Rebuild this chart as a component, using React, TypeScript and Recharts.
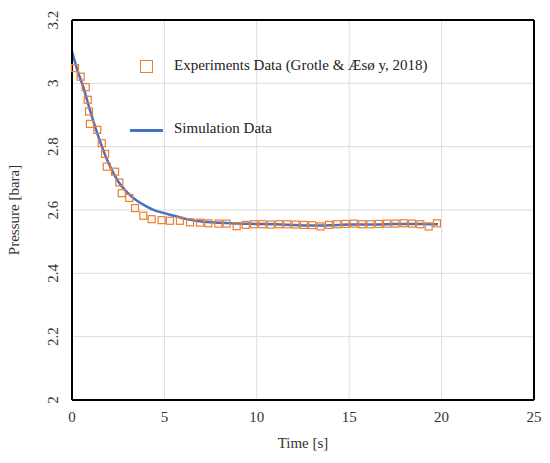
import React from "react"
import { ComposedChart, Line, Scatter, XAxis, YAxis, CartesianGrid, ReferenceLine } from "recharts"

const expTime = [
  0.16, 0.47, 0.74, 0.85, 0.92, 0.97, 1.37, 1.61, 1.79, 1.88, 2.33, 2.56, 2.69, 3.1, 3.41, 3.86, 4.31,
  4.85, 5.3, 5.84, 6.39, 6.93, 7.38, 7.92, 8.37, 8.91, 9.4, 9.85, 10.3, 10.75, 11.2, 11.65, 12.1, 12.55,
  13.0, 13.45, 13.9, 14.35, 14.8, 15.25, 15.7, 16.15, 16.6, 17.05, 17.5, 17.95, 18.4, 18.85, 19.3, 19.75,
]
const expPressure = [
  3.048, 3.021, 2.988, 2.948, 2.911, 2.872, 2.853, 2.811, 2.777, 2.737, 2.721, 2.687, 2.653, 2.638, 2.606,
  2.582, 2.571, 2.568, 2.566, 2.566, 2.561, 2.56, 2.558, 2.557, 2.557, 2.549, 2.553, 2.555, 2.555, 2.554,
  2.555, 2.555, 2.554, 2.553, 2.552, 2.548, 2.553, 2.555, 2.556, 2.557, 2.555, 2.555, 2.556, 2.557, 2.557,
  2.558, 2.557, 2.555, 2.548, 2.558,
]

const simTime = [0, 0.3, 0.6, 1, 1.5, 2, 2.5, 3, 3.5, 4, 4.5, 5, 5.5, 6, 6.5, 7, 8, 9, 10, 11, 12, 13, 14, 15, 16, 17, 18, 19, 19.8]
const simPressure = [
  3.1, 3.04, 2.99, 2.91, 2.82, 2.745, 2.69, 2.655, 2.63, 2.612, 2.598, 2.59, 2.582, 2.574, 2.568, 2.564,
  2.56, 2.557, 2.556, 2.555, 2.553, 2.551, 2.552, 2.554, 2.554, 2.555, 2.556, 2.556, 2.555,
]

const xTicks = [0, 5, 10, 15, 20, 25]
const yTicks = [2, 2.2, 2.4, 2.6, 2.8, 3, 3.2]

const expData = expTime.map((t, i) => ({ x: t, y: expPressure[i] }))
const simData = simTime.map((t, i) => ({ x: t, y: simPressure[i] }))

const FONT = "'Liberation Serif', serif"
const ORANGE = "#ED7D31"
const BLUE = "#4472C4"

const SquareDot = (props: any) => {
  const { cx, cy } = props
  if (cx == null || cy == null) return null
  return <rect x={cx - 3.5} y={cy - 3.5} width={7} height={7} fill="none" stroke={ORANGE} strokeWidth={1.2} />
}

const YTick = (props: any) => {
  const { y, payload } = props
  return (
    <text
      x={53}
      y={y}
      transform={`rotate(-90, 53, ${y})`}
      textAnchor="middle"
      dominantBaseline="central"
      fontFamily={FONT}
      fontSize={15}
      fill="#333"
    >
      {payload.value}
    </text>
  )
}

// legend drawn as an overlay so it doesn't shrink the plot area
const LegendBox = () => (
  <div style={{ position: "absolute", left: 130, top: 56, fontFamily: FONT, fontSize: 15, color: "#222" }}>
    <div style={{ position: "absolute", left: 10, top: 4, width: 13, height: 13, border: `1.5px solid ${ORANGE}`, boxSizing: "border-box" }} />
    <div style={{ position: "absolute", left: 44, top: 1, whiteSpace: "nowrap" }}>Experiments Data (Grotle &amp; Æsø y, 2018)</div>
    <div style={{ position: "absolute", left: 0, top: 73, width: 33, height: 3, background: BLUE }} />
    <div style={{ position: "absolute", left: 44, top: 64, whiteSpace: "nowrap" }}>Simulation Data</div>
  </div>
)

export default function App() {
  return (
    <div style={{ width: 550, height: 463, position: "relative", background: "#fff" }}>
      <style>{`body{margin:0}`}</style>
      <ComposedChart width={550} height={463} margin={{ top: 20, right: 16, bottom: 0, left: 0 }}>
        <CartesianGrid stroke="#DCDCDC" strokeWidth={1} />
        <XAxis
          type="number"
          dataKey="x"
          domain={[0, 25]}
          ticks={xTicks}
          height={63}
          axisLine={{ stroke: "#000", strokeWidth: 2 }}
          tickLine={false}
          tickSize={0}
          tickMargin={11}
          tick={{ fontFamily: FONT, fontSize: 15, fill: "#333" }}
          label={{ value: "Time [s]", position: "insideBottom", offset: 15, style: { fontFamily: FONT, fontSize: 15, fill: "#333" } }}
        />
        <YAxis
          type="number"
          dataKey="y"
          domain={[2, 3.2]}
          ticks={yTicks}
          width={72}
          axisLine={{ stroke: "#000", strokeWidth: 2 }}
          tickLine={false}
          tick={<YTick />}
          label={{ value: "Pressure [bara]", angle: -90, position: "insideLeft", offset: 14, style: { fontFamily: FONT, fontSize: 15, fill: "#333", textAnchor: "middle" } }}
        />
        <ReferenceLine y={3.2} stroke="#000" strokeWidth={2} />
        <ReferenceLine x={25} stroke="#000" strokeWidth={2} />
        <Scatter name="Experiments Data" data={expData} shape={<SquareDot />} isAnimationActive={false} />
        <Line
          name="Simulation Data"
          data={simData}
          dataKey="y"
          type="monotone"
          stroke={BLUE}
          strokeWidth={2.5}
          dot={false}
          isAnimationActive={false}
        />
      </ComposedChart>
      <LegendBox />
    </div>
  )
}
